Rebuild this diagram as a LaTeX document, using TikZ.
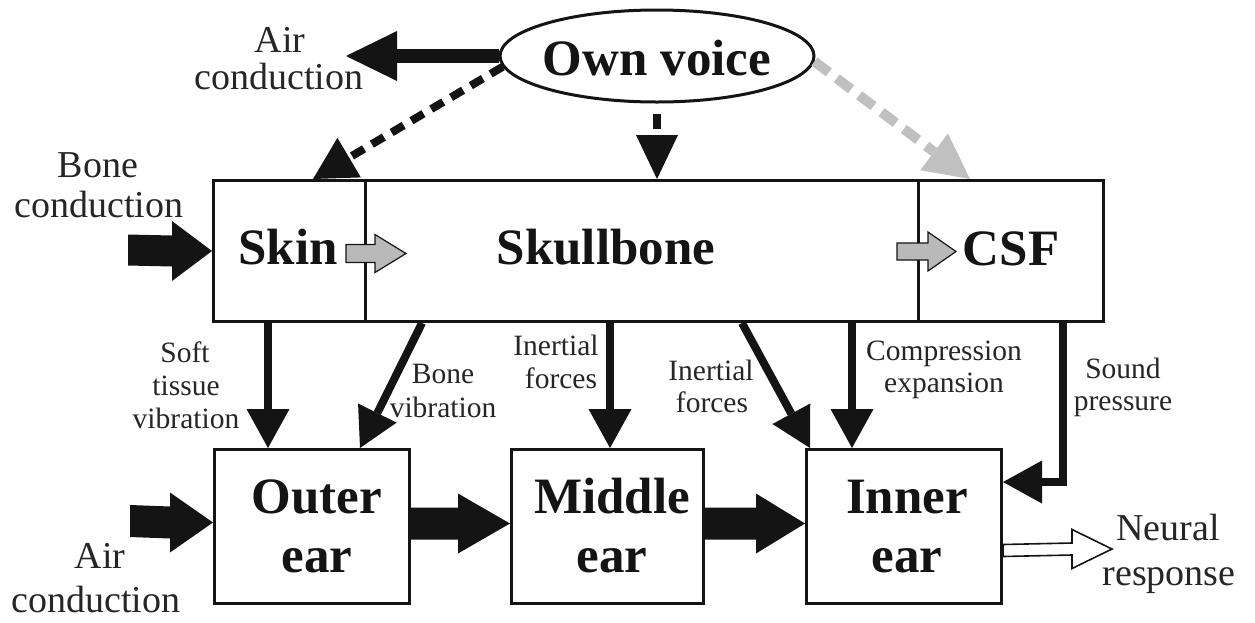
\documentclass[tikz,border=0pt]{standalone}
\usepackage{fontspec}
\setmainfont{Liberation Serif}
\usetikzlibrary{arrows.meta,shapes.geometric,calc}
\definecolor{ink}{RGB}{20,20,20}
\definecolor{txt}{RGB}{38,38,38}
\definecolor{lgray}{RGB}{192,192,192}
\definecolor{agray}{RGB}{185,185,185}
% horizontal block arrow: style, start, tip, shaft half width, head half width, head length
\newcommand{\blockarrow}[6]{%
  \path[#1] ($(#2)+(0,#4)$) -- ($(#3)+(-#6,#4)$) -- ($(#3)+(-#6,#5)$) -- (#3)
    -- ($(#3)+(-#6,-#5)$) -- ($(#3)+(-#6,-#4)$) -- ($(#2)+(0,-#4)$) -- cycle;}
\begin{document}
\begin{tikzpicture}[x=1pt,y=-1pt,
  box/.style={draw=ink, line width=3pt, inner sep=0pt, anchor=north west},
  lbl/.style={font=\fontsize{29.5}{33}\selectfont, text=txt, inner sep=0pt, anchor=base},
  biglbl/.style={font=\fontsize{38}{42}\selectfont, text=txt, inner sep=0pt, anchor=base},
  boldlbl/.style={font=\fontsize{51}{56}\selectfont\bfseries, text=ink, inner sep=0pt, anchor=base},
  conn/.style={draw=ink, line width=8pt, line join=miter,
    -{Triangle[length=39pt,width=43pt,line width=0pt]}},
  blackfill/.style={fill=ink},
  grayfill/.style={fill=agray, draw=ink, line width=1.2pt},
  whitefill/.style={fill=white, draw=ink, line width=1.6pt}]
\useasboundingbox (0,0) rectangle (1255,622);

% ---- nodes ----
\node[draw=ink, line width=3pt, ellipse, minimum width=314pt, minimum height=92pt, inner sep=0pt] (voice) at (657,56) {};
\node[boldlbl] (voicetxt) at (657,75) {Own voice};

\node[box, minimum width=152pt, minimum height=141pt] (skin) at (212,179) {};
\node[box, minimum width=553pt, minimum height=141pt] (skull) at (364,179) {};
\node[box, minimum width=185pt, minimum height=141pt] (csf) at (917,179) {};
\node[boldlbl] (skintxt) at (288,264) {Skin};
\node[boldlbl] (skulltxt) at (606,264) {Skullbone};
\node[boldlbl] (csftxt) at (1011,265) {CSF};

\node[box, minimum width=195pt, minimum height=154pt] (outer) at (213,448) {};
\node[box, minimum width=192pt, minimum height=154pt] (middle) at (510,448) {};
\node[box, minimum width=195pt, minimum height=154pt] (inner) at (805,448) {};
\node[boldlbl] (outer1) at (317,513) {Outer};
\node[boldlbl] (outer2) at (317,572) {ear};
\node[boldlbl] (middle1) at (612,513) {Middle};
\node[boldlbl] (middle2) at (612,572) {ear};
\node[boldlbl] (inner1) at (907,513) {Inner};
\node[boldlbl] (inner2) at (907,572) {ear};

% ---- big labels ----
\node[biglbl] (airtop1) at (280,52) {Air};
\node[biglbl] (airtop2) at (279,89) {conduction};
\node[biglbl] (bone1) at (98,177) {Bone};
\node[biglbl] (bone2) at (99,217) {conduction};
\node[biglbl] (airbot1) at (100,568) {Air};
\node[biglbl] (airbot2) at (96,612) {conduction};
\node[biglbl] (neural1) at (1168,540) {Neural};
\node[biglbl] (neural2) at (1169,585) {response};

% ---- small labels ----
\node[lbl] (soft1) at (185,362) {Soft};
\node[lbl] (soft2) at (186,395) {tissue};
\node[lbl] (soft3) at (186,428) {vibration};
\node[lbl] (bvib1) at (443,383) {Bone};
\node[lbl] (bvib2) at (443,417) {vibration};
\node[lbl] (inA1) at (556,355) {Inertial};
\node[lbl] (inA2) at (561,388) {forces};
\node[lbl] (inB1) at (711,380) {Inertial};
\node[lbl] (inB2) at (712,412) {forces};
\node[lbl] (comp1) at (944,360) {Compression};
\node[lbl] (comp2) at (944,392) {expansion};
\node[lbl] (snd1) at (1123,378) {Sound};
\node[lbl] (snd2) at (1123,410) {pressure};

% ---- coordinates ----
\coordinate (airtip) at (346,56);
\coordinate (skintop) at ($(skin.north west)+(101,0)$);
\coordinate (csftop) at ($(csf.north west)+(53,0)$);
\coordinate (bcin) at (128,250);
\coordinate (acin) at (130,521);
\coordinate (acend) at ($(outer.west)+(0,-4)$);
\coordinate (o2m0) at ($(outer.east)+(0,-3)$);
\coordinate (o2m1) at ($(middle.west)+(0,-3)$);
\coordinate (m2i0) at ($(middle.east)+(0,-3)$);
\coordinate (m2i1) at ($(inner.west)+(0,-3)$);
\coordinate (nr0) at ($(inner.east)+(0,24)$);
\coordinate (nrtip) at (1112,549);
\coordinate (g1a) at ($(skin.east)+(-21,2.5)$);
\coordinate (g1b) at ($(skin.east)+(39,2.5)$);
\coordinate (g2a) at ($(csf.west)+(-20,0.5)$);
\coordinate (g2b) at ($(csf.west)+(39,0.5)$);

% ---- connectors from own voice ----
\draw[draw=ink, line width=14pt, -{Triangle[length=51pt,width=50pt,line width=0pt]}] (voice.west) -- (airtip);
\draw[draw=ink, line width=8pt, dash pattern=on 14pt off 9pt,
  -{Triangle[length=42pt,width=46pt,line width=0pt]}] (voice.184) -- (skintop);
\draw[draw=ink, line width=8pt, dash pattern=on 15pt off 10pt, dash phase=15pt,
  -{Triangle[length=44pt,width=42pt,line width=0pt]}] (voice.south) -- (voice.south |- skull.north);
\draw[draw=lgray, line width=10pt, dash pattern=on 18pt off 10pt,
  -{Triangle[length=45pt,width=46pt,line width=0pt]}] (voice.358) -- (csftop);

% ---- block arrows ----
\blockarrow{blackfill}{bcin}{skin.west}{15.5}{30}{40}
\blockarrow{blackfill}{acin}{acend}{16}{30}{43}
\blockarrow{blackfill}{o2m0}{o2m1}{16}{30}{52}
\blockarrow{blackfill}{m2i0}{m2i1}{16}{30}{49}
\blockarrow{whitefill}{nr0}{nrtip}{6}{19.5}{40}
\blockarrow{grayfill}{g1a}{g1b}{9}{19}{31}
\blockarrow{grayfill}{g2a}{g2b}{8.5}{19.5}{28}

% ---- vertical connectors ----
\draw[conn] ($(skin.south west)+(56,0)$) -- ($(outer.north west)+(55,0)$);
\draw[conn] ($(skull.south west)+(58,0)$) -- ($(outer.north west)+(147,0)$);
\draw[conn] ($(skull.south west)+(246,0)$) -- ($(middle.north west)+(100,0)$);
\draw[conn] ($(skull.south west)+(378,0)$) -- ($(inner.north west)+(5,0)$);
\draw[conn] ($(skull.south west)+(488,0)$) -- ($(inner.north west)+(47,0)$);
\draw[conn] ($(csf.south west)+(146,0)$) |- ($(inner.north east)+(0,34)$);
\end{tikzpicture}
\end{document}
